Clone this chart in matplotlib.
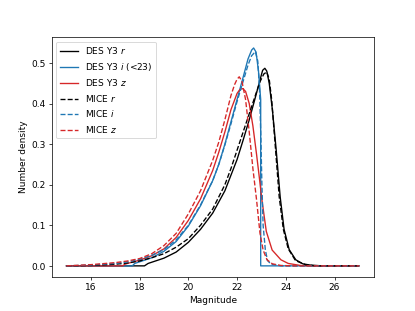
import matplotlib
matplotlib.use('Agg')
import matplotlib.pyplot as plt

# DES Y3 r
des_r_m = [15, 18.2, 18.35, 18.6, 19.0, 19.5, 20.0, 20.5, 21.0, 21.5, 22.0, 22.25, 22.5, 22.75,
           22.95, 23.05, 23.14, 23.22, 23.32, 23.45, 23.6, 23.77, 23.93, 24.14, 24.41, 24.7, 25.0,
           25.5, 27]
des_r_n = [0, 0, 0.006, 0.011, 0.019, 0.034, 0.058, 0.09, 0.13, 0.185, 0.262, 0.31, 0.36, 0.415,
           0.46, 0.482, 0.487, 0.48, 0.45, 0.385, 0.29, 0.17, 0.09, 0.04, 0.015, 0.005, 0.002,
           0, 0]

# DES Y3 i (<23)
des_i_m = [15, 17.7, 17.8, 18.0, 18.5, 19.0, 19.5, 20.0, 20.5, 21.0, 21.25, 21.5, 21.75, 22.0,
           22.25, 22.45, 22.6, 22.68, 22.78, 22.88, 22.97, 22.97, 27]
des_i_n = [0, 0, 0.006, 0.01, 0.02, 0.036, 0.06, 0.098, 0.148, 0.21, 0.25, 0.3, 0.355, 0.41,
           0.465, 0.51, 0.532, 0.537, 0.527, 0.48, 0.41, 0, 0]

# DES Y3 z
des_z_m = [15, 17.3, 17.4, 17.5, 18.0, 18.5, 19.0, 19.5, 20.0, 20.5, 21.0, 21.25, 21.5, 21.75,
           22.0, 22.12, 22.23, 22.35, 22.5, 22.65, 22.8, 22.9, 23.02, 23.2, 23.44, 23.8, 24.1,
           24.6, 25.0, 27]
des_z_n = [0, 0, 0.004, 0.006, 0.014, 0.025, 0.042, 0.07, 0.112, 0.165, 0.235, 0.28, 0.33, 0.385,
           0.425, 0.435, 0.437, 0.43, 0.4, 0.345, 0.275, 0.225, 0.163, 0.085, 0.039, 0.015, 0.006,
           0.001, 0, 0]

# MICE r
mice_r_m = [15, 16, 17, 17.5, 18.0, 18.55, 19.0, 19.5, 20.0, 20.5, 21.0, 21.5, 21.75, 22.0, 22.25,
            22.5, 22.75, 22.95, 23.1, 23.22, 23.32, 23.42, 23.55, 23.73, 23.9, 24.1, 24.4, 24.8,
            25.2, 27]
mice_r_n = [0, 0.001, 0.004, 0.007, 0.012, 0.021, 0.03, 0.046, 0.067, 0.1, 0.14, 0.2, 0.24, 0.285,
            0.33, 0.375, 0.42, 0.455, 0.473, 0.478, 0.46, 0.41, 0.31, 0.17, 0.09, 0.042, 0.013,
            0.003, 0, 0]

# MICE i
mice_i_m = [15, 16, 17, 17.5, 18.0, 18.5, 19.0, 19.5, 20.0, 20.5, 21.0, 21.25, 21.5, 21.75, 22.0,
            22.25, 22.45, 22.6, 22.75, 22.85, 22.92, 22.98, 23.02, 23.07, 23.16, 23.25, 23.4, 23.8, 27]
mice_i_n = [0, 0.002, 0.006, 0.01, 0.016, 0.026, 0.04, 0.064, 0.1, 0.15, 0.21, 0.25, 0.298, 0.35,
            0.405, 0.455, 0.495, 0.518, 0.528, 0.505, 0.44, 0.31, 0.2, 0.1, 0.04, 0.013, 0.004, 0, 0]

# MICE z
mice_z_m = [15, 16, 17, 17.5, 18.0, 18.5, 19.0, 19.5, 20.0, 20.5, 21.0, 21.25, 21.5, 21.75, 21.9,
            22.0, 22.09, 22.2, 22.35, 22.5, 22.65, 22.8, 22.94, 23.07, 23.23, 23.45, 23.8, 24.3, 27]
mice_z_n = [0, 0.003, 0.008, 0.012, 0.018, 0.03, 0.05, 0.08, 0.128, 0.185, 0.26, 0.305, 0.36,
            0.42, 0.447, 0.46, 0.466, 0.455, 0.41, 0.33, 0.24, 0.163, 0.081, 0.039, 0.015, 0.005,
            0.001, 0, 0]

fig, ax = plt.subplots(figsize=(6.4, 4.8), dpi=415 / 6.4)

ax.plot(des_r_m, des_r_n, color='k', label='DES Y3 $r$')
ax.plot(des_i_m, des_i_n, color='tab:blue', label='DES Y3 $i$ (<23)')
ax.plot(des_z_m, des_z_n, color='tab:red', label='DES Y3 $z$')
ax.plot(mice_r_m, mice_r_n, color='k', ls='--', label='MICE $r$')
ax.plot(mice_i_m, mice_i_n, color='tab:blue', ls='--', label='MICE $i$')
ax.plot(mice_z_m, mice_z_n, color='tab:red', ls='--', label='MICE $z$')

ax.set_xlabel('Magnitude')
ax.set_ylabel('Number density')
ax.legend(loc='upper left')

fig.savefig('out.png')
